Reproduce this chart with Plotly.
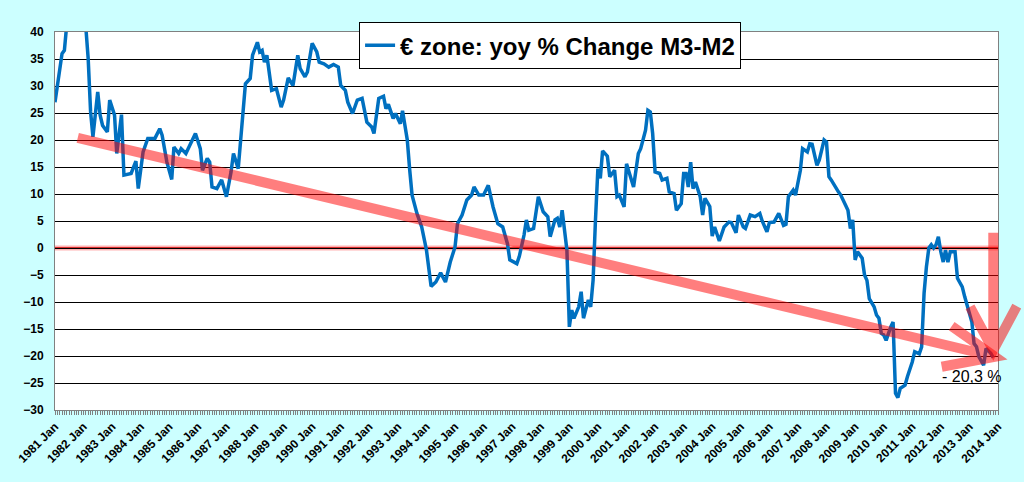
import plotly.graph_objects as go

# month of each reading (YYYY-MM) and yoy % change M3-M2
months = [
    "1981-01", "1981-02", "1981-04", "1981-05", "1981-06", "1981-08", "1981-11",
    "1982-02", "1982-03", "1982-04", "1982-05", "1982-07", "1982-08", "1982-09", "1982-11", "1982-12",
    "1983-02", "1983-03", "1983-05", "1983-06", "1983-09", "1983-11", "1983-12",
    "1984-02", "1984-04", "1984-07", "1984-09", "1984-10", "1984-12",
    "1985-02", "1985-03", "1985-05", "1985-06", "1985-08", "1985-12",
    "1986-02", "1986-03", "1986-05", "1986-06", "1986-07", "1986-09", "1986-11",
    "1987-01", "1987-03", "1987-04", "1987-06", "1987-08", "1987-09", "1987-11", "1987-12",
    "1988-02", "1988-03", "1988-04", "1988-05", "1988-06", "1988-08", "1988-10", "1988-12",
    "1989-01", "1989-03", "1989-05", "1989-07", "1989-08", "1989-10", "1989-11",
    "1990-01", "1990-03", "1990-04", "1990-06", "1990-08", "1990-10", "1990-12",
    "1991-01", "1991-03", "1991-04", "1991-06", "1991-08", "1991-10", "1991-12",
    "1992-02", "1992-03", "1992-05", "1992-07", "1992-08", "1992-09", "1992-11", "1992-12",
    "1993-02", "1993-03", "1993-05", "1993-06", "1993-07", "1993-09", "1993-11",
    "1994-01", "1994-02", "1994-03", "1994-05", "1994-07", "1994-09", "1994-11",
    "1995-01", "1995-02", "1995-04", "1995-06", "1995-08", "1995-09", "1995-11",
    "1996-01", "1996-03", "1996-05", "1996-07", "1996-09", "1996-11", "1996-12",
    "1997-03", "1997-04", "1997-06", "1997-07", "1997-08", "1997-10", "1997-12",
    "1998-02", "1998-04", "1998-05", "1998-07", "1998-08", "1998-09", "1998-10", "1998-12",
    "1999-01", "1999-02", "1999-03", "1999-05", "1999-06", "1999-07", "1999-09", "1999-10", "1999-11", "1999-12",
    "2000-01", "2000-02", "2000-03", "2000-05", "2000-06", "2000-08", "2000-09", "2000-10", "2000-12",
    "2001-01", "2001-02", "2001-04", "2001-06", "2001-07", "2001-09", "2001-10", "2001-11", "2001-12",
    "2002-01", "2002-03", "2002-04", "2002-06", "2002-07", "2002-09", "2002-10", "2002-12",
    "2003-01", "2003-02", "2003-03", "2003-04", "2003-05", "2003-06", "2003-08", "2003-09", "2003-10", "2003-12",
    "2004-01", "2004-02", "2004-04", "2004-06", "2004-08", "2004-09", "2004-11", "2004-12",
    "2005-02", "2005-03", "2005-05", "2005-07", "2005-09", "2005-10", "2005-12",
    "2006-01", "2006-03", "2006-04", "2006-05", "2006-07", "2006-08", "2006-09", "2006-11", "2006-12",
    "2007-02", "2007-03", "2007-05", "2007-06", "2007-07", "2007-09", "2007-10", "2007-12",
    "2008-01", "2008-02", "2008-03", "2008-06", "2008-07", "2008-09", "2008-10", "2008-11", "2008-12",
    "2009-01", "2009-02", "2009-04", "2009-05", "2009-06", "2009-07", "2009-09", "2009-10", "2009-11", "2009-12",
    "2010-01", "2010-02", "2010-04", "2010-05", "2010-06", "2010-07", "2010-08", "2010-10", "2010-11",
    "2011-01", "2011-02", "2011-04", "2011-05", "2011-06", "2011-07", "2011-08", "2011-09", "2011-10",
    "2011-11", "2011-12",
    "2012-01", "2012-02", "2012-03", "2012-04", "2012-05", "2012-07", "2012-08", "2012-09", "2012-10", "2012-11",
    "2013-01", "2013-02", "2013-03", "2013-04", "2013-05", "2013-07", "2013-08", "2013-10", "2013-11",
]
change = [
    27.0, 30.1, 36.0, 36.6, 41.5, 45.0, 46.0,
    40.5, 35.1, 25.2, 20.6, 28.9, 24.6, 22.7, 21.5, 27.4,
    24.6, 17.5, 24.7, 13.5, 13.8, 16.1, 11.0,
    17.8, 20.3, 20.3, 22.1, 20.9, 15.9,
    12.7, 18.7, 17.5, 18.4, 17.5, 21.2,
    18.4, 14.4, 16.6, 15.9, 11.3, 11.0, 12.6,
    9.5, 14.1, 17.5, 14.7, 26.4, 30.4, 31.4, 35.7,
    38.1, 36.3, 36.6, 34.4, 35.7, 29.2, 29.5, 26.1,
    27.4, 31.5, 30.1, 35.7, 33.2, 31.7, 32.6,
    37.9, 36.3, 34.4, 34.1, 33.5, 34.0, 33.5,
    30.1, 29.2, 27.0, 24.9, 27.4, 27.7, 23.3,
    22.4, 21.2, 27.7, 28.1, 25.8, 26.6, 24.0, 24.9,
    23.0, 25.4, 20.0, 14.4, 9.8, 6.4, 3.9,
    -0.4, -4.1, -7.1, -6.3, -4.6, -6.3, -2.6,
    0.2, 4.5, 6.1, 8.9, 9.8, 11.3, 9.8,
    9.8, 11.6, 7.6, 4.5, 3.9, 0.8, -2.2,
    -2.9, -1.6, 2.4, 5.2, 3.3, 3.6, 9.5,
    6.7, 5.8, 2.1, 5.2, 5.5, 3.9, 7.0, -0.4,
    -14.6, -11.5, -13.0, -10.9, -8.1, -13.0, -9.6, -10.9, -5.9, 5.2,
    14.7, 12.9, 18.0, 17.0, 13.2, 14.4, 9.5, 9.8, 7.6,
    15.6, 14.1, 11.3, 17.5, 18.4, 21.8, 25.5, 25.2, 21.2,
    14.1, 13.8, 12.6, 12.9, 10.4, 10.1, 7.0, 8.2,
    13.8, 13.8, 11.3, 15.9, 11.0, 12.2, 9.5, 6.1, 9.2, 7.7,
    2.2, 3.9, 1.3, 3.9, 4.8, 4.7, 2.8, 6.1,
    3.9, 3.6, 6.1, 5.8, 6.4, 5.0, 3.0,
    4.7, 4.8, 5.8, 6.4, 4.2, 4.4, 9.5, 10.7, 9.8,
    14.4, 18.4, 17.8, 19.3, 19.2, 15.3, 16.3, 20.0,
    19.6, 13.2, 12.6, 10.4, 9.8, 7.9, 7.0, 3.6, 5.2,
    -2.2, -0.7, -1.9, -5.0, -6.0, -9.4, -10.9, -12.4, -13.0, -15.8,
    -16.1, -17.1, -14.6, -13.7, -26.9, -27.7, -26.0, -25.4, -23.8,
    -21.1, -19.2, -19.6, -18.3, -8.4, -3.5, 0.0, 0.6, 0.0,
    0.6, 2.1,
    -0.7, -2.6, -0.4, -2.6, -0.7, -0.7, -5.6, -6.3, -7.2, -9.0,
    -11.8, -13.7, -17.7, -18.3, -20.1, -21.7, -18.6, -19.5, -20.3,
]

series_name = "€ zone: yoy % Change M3-M2"
last_label = "- 20,3 %"

FONT = "Arial, 'Liberation Sans', sans-serif"
ARROW = "red"

fig = go.Figure()

fig.add_trace(go.Scatter(
    x=months,
    y=change,
    mode="lines",
    name=series_name,
    line=dict(color="#0070C0", width=3.5),
    showlegend=True,
))

# zero line with a soft halo
fig.add_shape(type="line", xref="paper", yref="y", x0=0, x1=1, y0=0, y1=0,
              line=dict(color="rgba(255,0,0,0.3)", width=5), layer="between")
fig.add_shape(type="line", xref="paper", yref="y", x0=0, x1=1, y0=0, y1=0,
              line=dict(color="#cc0000", width=1.3), layer="between")

# big downward trend arrow and the vertical arrow on the right
fig.add_shape(
    type="path", xref="paper", yref="paper",
    path="M 0.0241 0.7197 L 0.9968 0.1409 M 0.9509 0.2220 L 0.9968 0.1409 L 0.9403 0.1145",
    line=dict(color=ARROW, width=10), opacity=0.5, layer="above",
)
fig.add_shape(
    type="path", xref="paper", yref="paper",
    path="M 0.9950 0.4687 L 0.9950 0.1586 M 0.9703 0.2731 L 0.9950 0.1586 L 1.0199 0.2749",
    line=dict(color=ARROW, width=10), opacity=0.5, layer="above",
)

fig.add_annotation(
    x="2013-02-01", y=-23.8, xref="x", yref="y",
    text=last_label, showarrow=False,
    font=dict(family=FONT, size=16, color="black"),
)

fig.update_layout(
    width=1024,
    height=482,
    margin=dict(l=55, r=26, t=32, b=72),
    paper_bgcolor="#ccffff",
    plot_bgcolor="white",
    font=dict(family=FONT, color="black"),
    legend=dict(
        x=0.525, y=1.026, xanchor="center", yanchor="top",
        bgcolor="white", bordercolor="black", borderwidth=1,
        font=dict(family=FONT, size=24, color="black", weight="bold"),
        itemwidth=30,
    ),
    xaxis=dict(
        type="date",
        range=["1981-01-01", "2014-01-01"],
        dtick="M12",
        tick0="1981-01-01",
        tickformat="%Y %b",
        tickangle=-45,
        tickfont=dict(family=FONT, size=12, weight="bold"),
        ticks="outside", ticklen=4, tickcolor="#808080",
        minor=dict(dtick="M1", ticks="outside", ticklen=4, tickcolor="#808080"),
        showgrid=False,
        showline=True, linecolor="#808080", linewidth=1,
        mirror=True,
    ),
    yaxis=dict(
        range=[-30, 40],
        dtick=5,
        tickfont=dict(family=FONT, size=12, weight="bold"),
        ticklabelstandoff=8,
        showgrid=True, gridcolor="black", gridwidth=1,
        zeroline=False,
        showline=True, linecolor="#808080", linewidth=1,
        mirror=True,
        ticks="",
    ),
)

# the page keeps its default body margin otherwise, shifting the chart by 8px
fig.write_html(
    "out.html",
    config={"displayModeBar": False},
    post_script="document.body.style.margin='0';",
)
